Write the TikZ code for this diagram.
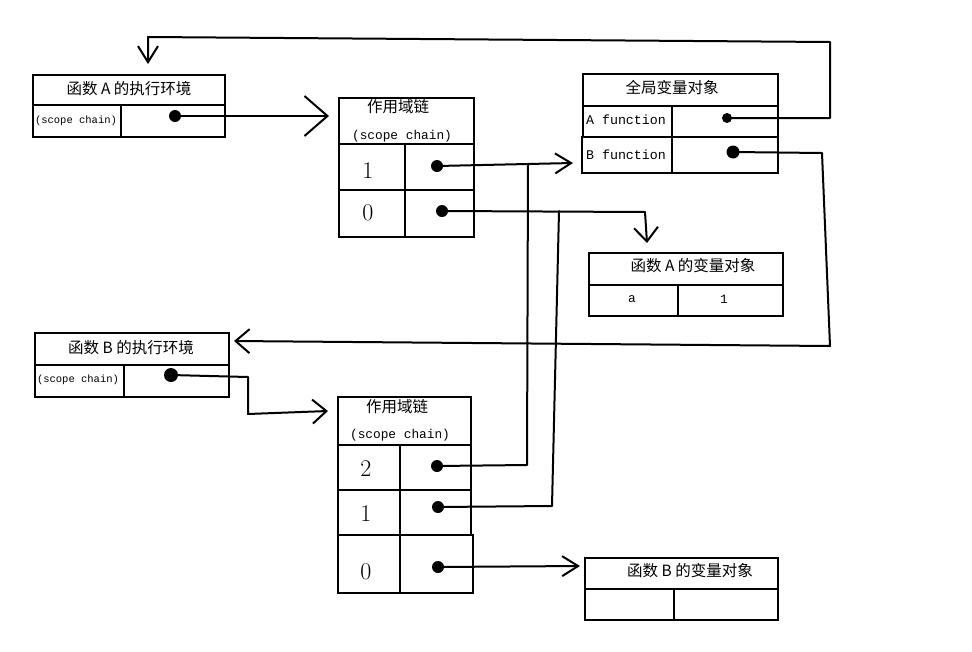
\documentclass[tikz,border=0pt]{standalone}
\usepackage{fontspec}
\setmonofont{Liberation Mono}
\newfontfamily\cjk{Noto Sans CJK SC}
\usetikzlibrary{arrows.meta}
\begin{document}
\begin{tikzpicture}[x=1pt,y=-1pt,
  cell/.style={draw, line width=1.5pt, anchor=north west, inner sep=0pt, rectangle},
  conn/.style={line width=2pt, line join=round, line cap=round},
  dot/.style={circle, fill=black, inner sep=0pt, minimum size=12pt},
  zh/.style={font=\cjk\fontsize{15.5}{17}\selectfont, inner sep=0pt},
  zhb/.style={font=\cjk\fontsize{15.5}{17}\selectfont, inner sep=0pt},
  msmall/.style={font=\ttfamily\fontsize{10.5}{12}\selectfont, inner sep=0pt},
  mmid/.style={font=\ttfamily\fontsize{12.8}{14}\selectfont, inner sep=0pt},
  mbig/.style={font=\ttfamily\fontsize{13.3}{15}\selectfont, inner sep=0pt},
  digit/.style={font=\fontsize{24}{26}\selectfont, inner sep=0pt},
  tipBig/.style={-{Straight Barb[length=23pt,width=40pt]}},
  tipMed/.style={-{Straight Barb[length=14pt,width=24pt]}},
  tipS/.style={-{Straight Barb[length=16pt,width=20pt]}}]
\useasboundingbox (0,0) rectangle (972,651);

% ---- A execution environment
\node[cell, minimum width=192pt, minimum height=30pt] (aH) at (32,74) {};
\node[cell, minimum width=88pt, minimum height=32pt] (aL) at (32,104) {};
\node[cell, minimum width=104pt, minimum height=32pt] (aR) at (120,104) {};
\node[zh] (aT) at (129,89) {函数 A 的执行环境};
\node[msmall] (aS) at (76,121) {(scope chain)};
\node[dot] (dA) at (175,116) {};

% ---- scope chain A
\node[cell, minimum width=135pt, minimum height=46pt] (sAH) at (338,97) {};
\node[cell, minimum width=66pt, minimum height=46pt] (sA1L) at (338,143) {};
\node[cell, minimum width=69pt, minimum height=46pt] (sA1R) at (404,143) {};
\node[cell, minimum width=66pt, minimum height=47pt] (sA0L) at (338,189) {};
\node[cell, minimum width=69pt, minimum height=47pt] (sA0R) at (404,189) {};
\node[zhb] (sAT) at (398,107) {作用域链};
\node[mmid] (sAS) at (402,136) {(scope chain)};
\node[digit] (sA1n) at (368,171) {1};
\node[digit] (sA0n) at (368,213) {0};
\node[dot] (dSA1) at (437,166) {};
\node[dot] (dSA0) at (442,211) {};

% ---- global variable object
\node[cell, minimum width=195pt, minimum height=32pt] (gH) at (582,73) {};
\node[cell, minimum width=89pt, minimum height=31pt] (gAL) at (582,105) {};
\node[cell, minimum width=106pt, minimum height=31pt] (gAR) at (671,105) {};
\node[cell, minimum width=90pt, minimum height=36pt] (gBL) at (581,136) {};
\node[cell, minimum width=106pt, minimum height=36pt] (gBR) at (671,136) {};
\node[zhb] (gT) at (672,88) {全局变量对象};
\node[mbig] (gAT) at (626,120) {A function};
\node[mbig] (gBT) at (626,155) {B function};
\node[dot, minimum size=10pt] (dGA) at (727,118) {};
\node[dot, minimum size=13pt] (dGB) at (733,152) {};

% ---- function A variable object
\node[cell, minimum width=194pt, minimum height=32pt] (vaH) at (588,252) {};
\node[cell, minimum width=89pt, minimum height=31pt] (vaL) at (588,284) {};
\node[cell, minimum width=105pt, minimum height=31pt] (vaR) at (677,284) {};
\node[zh] (vaT) at (693,266) {函数 A 的变量对象};
\node[mmid] (vaa) at (632,299) {a};
\node[mmid] (va1) at (724,299) {1};

% ---- B execution environment
\node[cell, minimum width=194pt, minimum height=32pt] (bH) at (34,332) {};
\node[cell, minimum width=89pt, minimum height=32pt] (bL) at (34,364) {};
\node[cell, minimum width=105pt, minimum height=32pt] (bR) at (123,364) {};
\node[zh] (bT) at (131,348) {函数 B 的执行环境};
\node[msmall] (bS) at (78,380) {(scope chain)};
\node[dot, minimum size=14pt] (dB) at (171,375) {};

% ---- scope chain B
\node[cell, minimum width=133pt, minimum height=48pt] (sBH) at (337,396) {};
\node[cell, minimum width=62pt, minimum height=45pt] (sB2L) at (337,444) {};
\node[cell, minimum width=71pt, minimum height=45pt] (sB2R) at (399,444) {};
\node[cell, minimum width=62pt, minimum height=45pt] (sB1L) at (337,489) {};
\node[cell, minimum width=71pt, minimum height=45pt] (sB1R) at (399,489) {};
\node[cell, minimum width=62pt, minimum height=58pt] (sB0L) at (337,534) {};
\node[cell, minimum width=73pt, minimum height=58pt] (sB0R) at (399,534) {};
\node[zhb] (sBT) at (397,407) {作用域链};
\node[mmid] (sBS) at (400,435) {(scope chain)};
\node[digit] (sB2n) at (366,469) {2};
\node[digit] (sB1n) at (366,514) {1};
\node[digit] (sB0n) at (366,572) {0};
\node[dot] (dSB2) at (437,466) {};
\node[dot] (dSB1) at (438,507) {};
\node[dot] (dSB0) at (438,567) {};

% ---- function B variable object
\node[cell, minimum width=193pt, minimum height=31pt] (vbH) at (584,557) {};
\node[cell, minimum width=89pt, minimum height=31pt] (vbL) at (584,588) {};
\node[cell, minimum width=104pt, minimum height=31pt] (vbR) at (673,588) {};
\node[zh] (vbT) at (690,571) {函数 B 的变量对象};

% ---- connector end points
\coordinate (tA) at (329,116);
\coordinate (tTop) at (148,64);
\coordinate (tBenv) at (234,341);
\coordinate (tG) at (573,163);
\coordinate (tVA) at (647,243);
\coordinate (tVB) at (580,566);
\coordinate (tSB) at (328,411);
\coordinate (jG) at (528,164);
\coordinate (jVA) at (559,211);

% ---- connectors
\draw[conn, tipBig] (dA.center) -- (tA);
\draw[conn, tipS] (dGA.center) -- (830,118) -- (830,42) -- (148,37) -- (tTop);
\draw[conn, tipMed] (dGB.center) -- (822,153) -- (830,346) -- (tBenv);
\draw[conn, tipS] (dSA1.center) -- (tG);
\draw[conn, tipMed] (dSA0.center) -- (645,212) -- (tVA);
\draw[conn] (dSB2.center) -- (527,465) -- (jG);
\draw[conn] (dSB1.center) -- (552,506) -- (jVA);
\draw[conn, tipS] (dSB0.center) -- (tVB);
\draw[conn, tipMed] (dB.center) -- (248,377) -- (248,414) -- (tSB);
\end{tikzpicture}
\end{document}
